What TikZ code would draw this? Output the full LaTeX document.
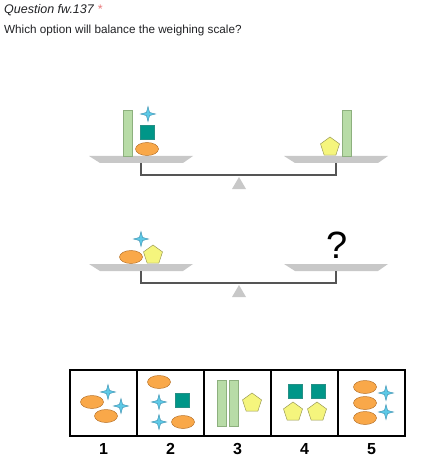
\documentclass[tikz,border=0pt]{standalone}
\usepackage{fontspec}
\setmainfont{Liberation Sans}
\usetikzlibrary{shapes.geometric,positioning}
\definecolor{egg}{HTML}{F9A849}
\definecolor{eggline}{HTML}{B8742C}
\definecolor{teal}{HTML}{009688}
\definecolor{pent}{HTML}{F5F57D}
\definecolor{pentline}{HTML}{9A9A55}
\definecolor{bar}{HTML}{B8DCA7}
\definecolor{barline}{HTML}{8DB07E}
\definecolor{spark}{HTML}{5DC9E6}
\definecolor{sparkline}{HTML}{3489AA}
\definecolor{pan}{HTML}{C8C8C8}
\definecolor{beam}{HTML}{555555}
\definecolor{ink}{HTML}{202124}
\definecolor{req}{HTML}{E8787A}

\begin{document}
\begin{tikzpicture}[x=1pt,y=-1pt,
  egg/.style={ellipse,draw=eggline,fill=egg,line width=0.5pt,minimum width=23pt,minimum height=13pt,inner sep=0pt},
  sq/.style={rectangle,fill=teal,draw=teal!70!gray,line width=0.4pt,minimum size=14pt,inner sep=0pt},
  pentagon/.style={regular polygon,regular polygon sides=5,draw=pentline,fill=pent,line width=0.5pt,minimum size=20pt,inner sep=0pt},
  greenbar/.style={rectangle,draw=barline,fill=bar,line width=0.5pt,minimum width=9pt,minimum height=46pt,inner sep=0pt},
  sparkle/.style={star,star points=4,star point ratio=3.4,draw=sparkline,fill=spark,line width=0.4pt,minimum size=15pt,inner sep=0pt},
  optbox/.style={rectangle,draw=black,line width=1.6pt,minimum width=67pt,minimum height=66pt,inner sep=0pt,outer sep=0pt},
  optnum/.style={font=\fontsize{16}{16}\bfseries,text=black}]
\useasboundingbox (0,0) rectangle (446,470);

% heading
\node[anchor=base west,inner sep=0pt,text=ink,font=\fontsize{12.5}{12.5}\itshape] (qtitle) at (4,14) {Question fw.137 \textcolor{req}{*}};
\node[anchor=base west,inner sep=0pt,text=ink,font=\fontsize{11.7}{11.7}\selectfont] (qtext) at (4,34) {Which option will balance the weighing scale?};

% the two scales
\foreach \yy/\nm in {0/a,108/b} {
  \fill[pan] (89,156+\yy) -- (193,156+\yy) -- (183,163+\yy) -- (100,163+\yy) -- cycle;
  \fill[pan] (284,156+\yy) -- (388,156+\yy) -- (378,163+\yy) -- (295,163+\yy) -- cycle;
  \coordinate (\nm left) at (141,163+\yy);
  \coordinate (\nm right) at (336,163+\yy);
  \draw[beam,line width=1.6pt] (\nm left) |- (238,175+\yy) -| (\nm right);
  \fill[pan] (239,177+\yy) -- (246,189+\yy) -- (232,189+\yy) -- cycle;
}

% scale 1
\node[greenbar] (abarl) at (127.5,133) {};
\node[egg] (aegg) at (147,149) {};
\node[sq] (asq) at (147,132.5) {};
\node[sparkle] (astar) at (148,114) {};
\node[pentagon] (apent) at (330,147) {};
\node[greenbar] (abarr) at (346.5,133) {};

% scale 2
\node[egg] (begg) at (131,257) {};
\node[pentagon] (bpent) at (153,255) {};
\node[sparkle] (bstar) at (141,239) {};
\node[font=\fontsize{38}{38}\selectfont,text=black,inner sep=0pt] (bq) at (337,245) {?};

% options
\node[optbox] (o1) at (103.5,403) {};
\node[optbox,right=0pt of o1] (o2) {};
\node[optbox,right=0pt of o2] (o3) {};
\node[optbox,right=0pt of o3] (o4) {};
\node[optbox,right=0pt of o4] (o5) {};
\foreach \i in {1,...,5}
  \node[optnum,below=4pt of o\i] (n\i) {\i};

% option 1
\node[egg] (e11) at (92,402) {};
\node[egg] (e12) at (106,416) {};
\node[sparkle] (s11) at (108,392) {};
\node[sparkle] (s12) at (121,406) {};
% option 2
\node[egg] (e21) at (159,382) {};
\node[sparkle] (s21) at (159,402) {};
\node[sparkle] (s22) at (159,422) {};
\node[sq] (q21) at (182,400) {};
\node[egg] (e22) at (183,422) {};
% option 3
\node[greenbar] (g31) at (221.5,403.5) {};
\node[greenbar] (g32) at (233.5,403.5) {};
\node[pentagon] (p31) at (252,403) {};
% option 4
\node[sq] (q41) at (295,391) {};
\node[sq] (q42) at (318,391) {};
\node[pentagon] (p41) at (293,412) {};
\node[pentagon] (p42) at (317,412) {};
% option 5
\node[egg] (e51) at (365,387) {};
\node[egg] (e52) at (365,403) {};
\node[egg] (e53) at (365,418) {};
\node[sparkle] (s51) at (386,393) {};
\node[sparkle] (s52) at (386,412) {};
\end{tikzpicture}
\end{document}
